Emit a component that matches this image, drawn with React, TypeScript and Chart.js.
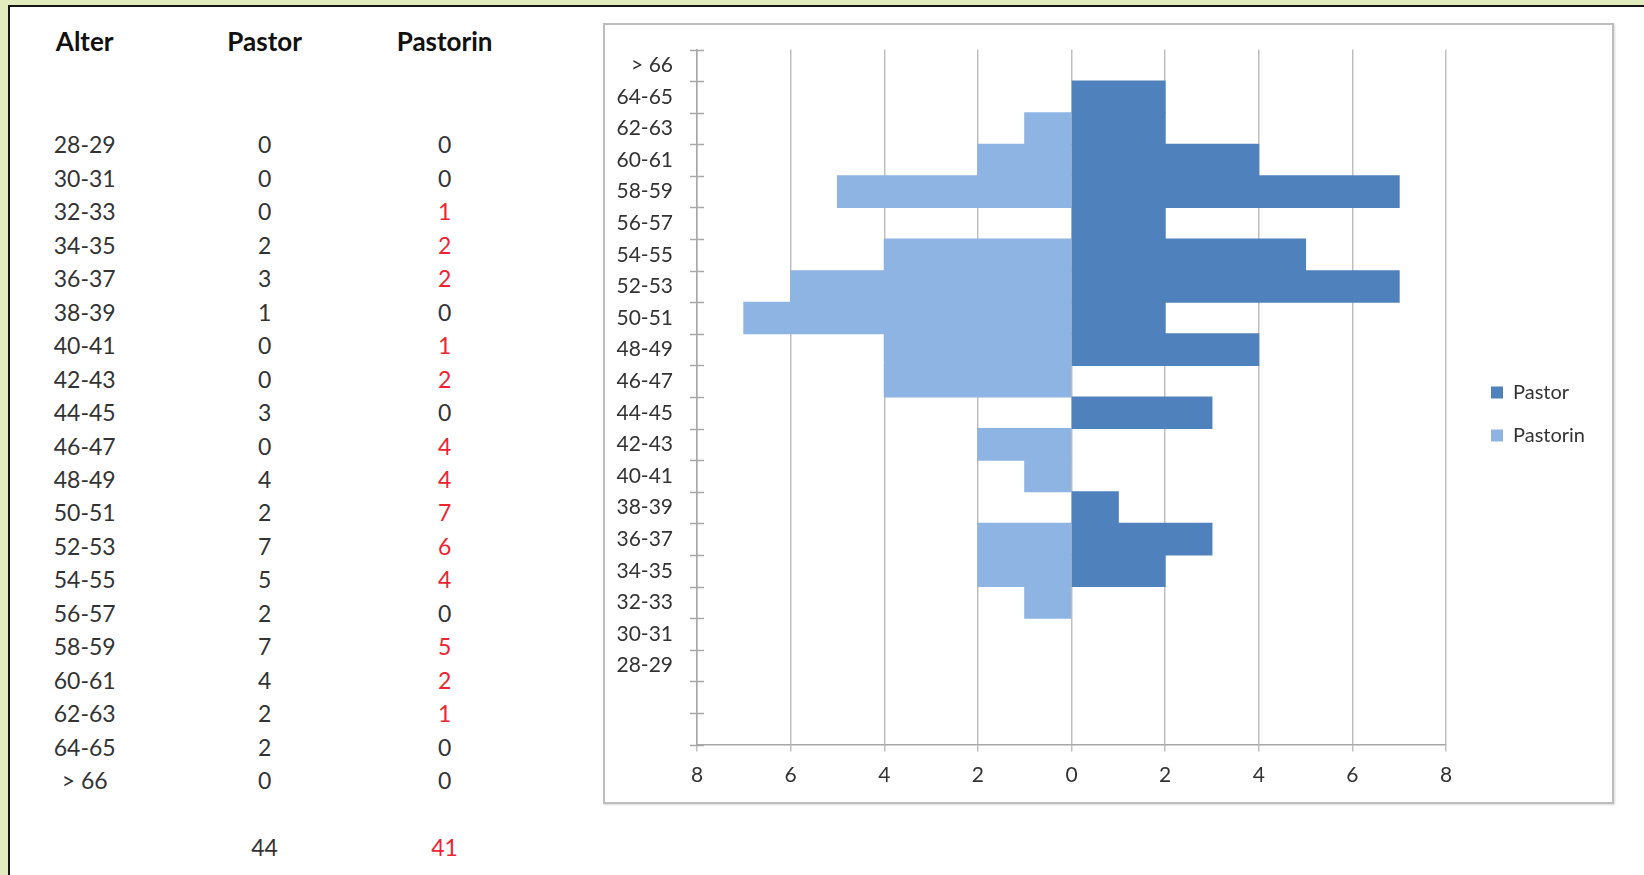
import React, { useEffect, useRef } from "react";
import { Chart, registerables } from "chart.js";

Chart.register(...registerables);

// ---- data ----
const tableHeaders = ["Alter", "Pastor", "Pastorin"];
const ageGroups = [
  "28-29", "30-31", "32-33", "34-35", "36-37", "38-39", "40-41", "42-43",
  "44-45", "46-47", "48-49", "50-51", "52-53", "54-55", "56-57", "58-59",
  "60-61", "62-63", "64-65", "> 66",
];
const pastorCounts = [0, 0, 0, 2, 3, 1, 0, 0, 3, 0, 4, 2, 7, 5, 2, 7, 4, 2, 2, 0];
const pastorinCounts = [0, 0, 1, 2, 2, 0, 1, 2, 0, 4, 4, 7, 6, 4, 0, 5, 2, 1, 0, 0];
const blankCategories = ["", ""]; // two empty rows below 28-29 on the chart axis
const seriesNames = ["Pastor", "Pastorin"];
const seriesColors = ["#4F81BD", "#8EB4E3"];
const xMin = -8;
const xMax = 8;
const xStep = 2;

const pastorTotal = pastorCounts.reduce((a, b) => a + b, 0);
const pastorinTotal = pastorinCounts.reduce((a, b) => a + b, 0);

const FONT = "Lato, 'Open Sans', sans-serif";
const TEXT = "#333333";
const RED = "#EE2430";

// canvas geometry
const CANVAS_W = 1007;
const CANVAS_H = 777;
const PLOT_LEFT = 92;
const PLOT_TOP = 24.5;
const PLOT_RIGHT = 841;
const PLOT_BOTTOM = 719.5;
const X_AXIS_H = 45;
const LEGEND_GAP = 22;
const LEGEND_FONT = 20;
const LEGEND_BOX = 12;
const LEGEND_PAD = 23;

const crossTicks = {
  id: "crossTicks",
  afterDraw(chart: any) {
    const y = chart.scales.y;
    const n = chart.data.labels.length;
    const x0 = chart.chartArea.left;
    const ctx = chart.ctx;
    ctx.save();
    ctx.strokeStyle = "#a8a8a8";
    ctx.lineWidth = 1.5;
    for (let i = 0; i <= n; i++) {
      const py = Math.round(y.getPixelForValue(i - 0.5)) + 0.5;
      ctx.beginPath();
      ctx.moveTo(x0 - 7, py);
      ctx.lineTo(x0 + 7, py);
      ctx.stroke();
    }
    ctx.restore();
  },
};

function ChartBox() {
  const ref = useRef<HTMLCanvasElement | null>(null);
  useEffect(() => {
    if (!ref.current) return;
    const labels = [...blankCategories, ...ageGroups];
    const pad = blankCategories.map(() => null);

    // natural legend width, so the plot's right edge lands where wanted
    const m = document.createElement("canvas").getContext("2d")!;
    m.font = `${LEGEND_FONT}px ${FONT}`;
    const tw = Math.max(...seriesNames.map((s) => m.measureText(s).width));
    const legendW = LEGEND_PAD + LEGEND_BOX + LEGEND_FONT / 2 + tw + 10;
    const rightPad = CANVAS_W - PLOT_RIGHT - LEGEND_GAP - legendW;

    const inflate = (c: any) => (c.raw === 0 || c.raw === null ? 0 : 0.5);

    const chart = new Chart(ref.current, {
      type: "bar",
      data: {
        labels,
        datasets: [
          {
            label: seriesNames[0],
            data: [...pad, ...pastorCounts],
            backgroundColor: seriesColors[0],
            borderWidth: 0,
            barPercentage: 1,
            categoryPercentage: 1,
            inflateAmount: inflate,
          },
          {
            label: seriesNames[1],
            data: [...pad, ...pastorinCounts.map((v) => -v)],
            backgroundColor: seriesColors[1],
            borderWidth: 0,
            barPercentage: 1,
            categoryPercentage: 1,
            inflateAmount: inflate,
          },
        ],
      },
      options: {
        indexAxis: "y",
        responsive: false,
        animation: false,
        layout: {
          padding: {
            top: PLOT_TOP,
            bottom: CANVAS_H - PLOT_BOTTOM - X_AXIS_H,
            left: 0,
            right: rightPad,
          },
        },
        scales: {
          x: {
            type: "linear",
            stacked: true,
            min: xMin,
            max: xMax,
            ticks: {
              stepSize: xStep,
              callback: (v: any) => String(Math.abs(Number(v))),
              color: TEXT,
              font: { family: FONT, size: 21 },
              padding: 11,
            },
            grid: { color: "#bfbfbf", lineWidth: 1.5, tickLength: 7, drawTicks: true },
            border: { display: true, color: "#a8a8a8", width: 1.5 },
            afterFit: (s: any) => {
              s.height = X_AXIS_H;
              s.paddingLeft = 0;
              s.paddingRight = 0;
            },
          },
          y: {
            type: "category",
            stacked: true,
            reverse: true,
            grid: { display: false, drawTicks: false },
            border: { display: true, color: "#a8a8a8", width: 1.5 },
            ticks: {
              autoSkip: false,
              color: TEXT,
              font: { family: FONT, size: 21 },
              padding: 24,
            },
            afterFit: (s: any) => {
              s.width = PLOT_LEFT;
              s.paddingTop = 0;
              s.paddingBottom = 0;
            },
          },
          legendGap: {
            type: "linear",
            position: "right",
            display: true,
            grid: { display: false, drawTicks: false },
            border: { display: false },
            ticks: { display: false },
            afterFit: (s: any) => {
              s.width = LEGEND_GAP;
              s.paddingTop = 0;
              s.paddingBottom = 0;
            },
          },
        },
        plugins: {
          legend: {
            position: "right",
            fullSize: false,
            title: { display: true, text: "", padding: 0, font: { size: 20, lineHeight: 1.7 } },
            labels: {
              boxWidth: LEGEND_BOX,
              boxHeight: LEGEND_BOX,
              padding: LEGEND_PAD,
              color: TEXT,
              font: { family: FONT, size: LEGEND_FONT },
            },
          },
          tooltip: { enabled: false },
        },
      },
      plugins: [crossTicks],
    } as any);
    return () => chart.destroy();
  }, []);
  return <canvas ref={ref} width={CANVAS_W} height={CANVAS_H} style={{ display: "block" }} />;
}

export default function App() {
  const colX = [84.7, 264.6, 444.6];
  const headerY = 40.8;
  const rowY0 = 144.3;
  const rowStep = 33.47;
  const totalY = 847.3;

  const cell = (x: number, y: number, text: string | number, color: string, bold = false, size = 23, key?: string) => (
    <div
      key={key}
      style={{
        position: "absolute",
        left: x,
        top: y,
        transform: "translate(-50%, -50%)",
        whiteSpace: "nowrap",
        fontFamily: FONT,
        fontSize: size,
        fontWeight: bold ? 700 : 400,
        color,
        lineHeight: 1,
      }}
    >
      {text}
    </div>
  );

  return (
    <div
      style={{
        position: "fixed",
        left: 0,
        top: 0,
        width: 1644,
        height: 875,
        overflow: "hidden",
        background: "#e2ebbd",
        fontFamily: FONT,
      }}
    >
      <div
        style={{
          position: "absolute",
          left: 8,
          top: 5,
          width: 1700,
          height: 900,
          background: "#ffffff",
          borderTop: "2px solid #151515",
          borderLeft: "2px solid #151515",
        }}
      />
      {tableHeaders.map((h, i) => cell(colX[i], headerY, h, "#111111", true, 26, "h" + i))}
      {ageGroups.map((g, i) => (
        <React.Fragment key={g}>
          {cell(colX[0], rowY0 + i * rowStep, g, TEXT)}
          {cell(colX[1], rowY0 + i * rowStep, pastorCounts[i], TEXT)}
          {cell(colX[2], rowY0 + i * rowStep, pastorinCounts[i], pastorinCounts[i] > 0 ? RED : TEXT)}
        </React.Fragment>
      ))}
      {cell(colX[1], totalY, pastorTotal, TEXT, false, 23, "t1")}
      {cell(colX[2], totalY, pastorinTotal, RED, false, 23, "t2")}
      <div
        style={{
          position: "absolute",
          left: 603,
          top: 23,
          width: 1011,
          height: 781,
          boxSizing: "border-box",
          border: "2px solid #bdbdbd",
          boxShadow: "1px 1px 2px rgba(0,0,0,0.15)",
          background: "#ffffff",
        }}
      >
        <ChartBox />
      </div>
    </div>
  );
}
